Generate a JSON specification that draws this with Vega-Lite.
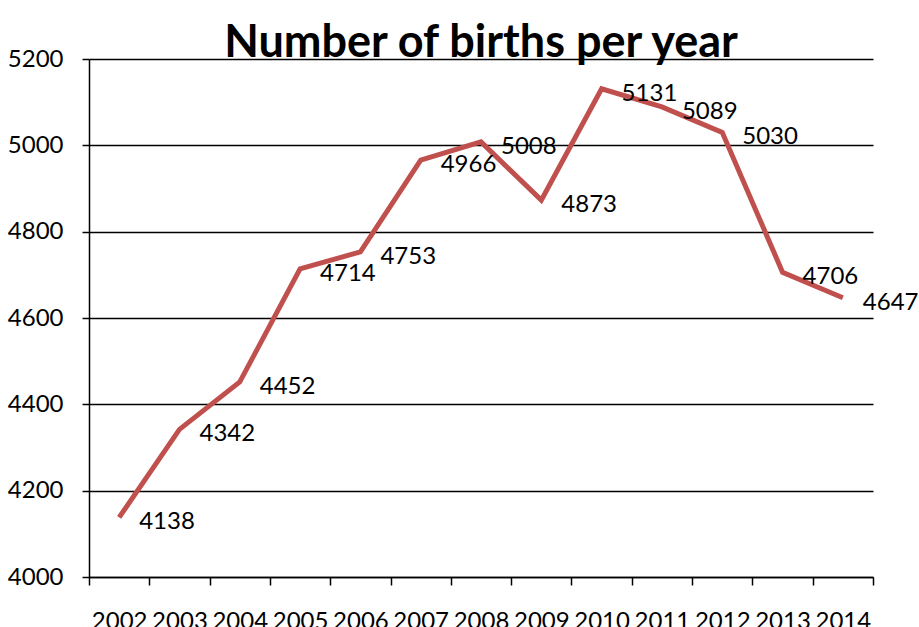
{
  "$schema": "https://vega.github.io/schema/vega-lite/v6.json",
  "width": 784,
  "height": 518,
  "autosize": "none",
  "padding": {"left": 89, "top": 59, "right": 46, "bottom": 50},
  "background": "white",
  "title": {
    "text": "Number of births per year",
    "anchor": "middle",
    "frame": "group",
    "font": "Lato",
    "fontSize": 45,
    "fontWeight": "bold",
    "color": "black",
    "baseline": "alphabetic",
    "offset": -55
  },
  "data": {
    "values": [
      {"year": "2002", "births": 4138},
      {"year": "2003", "births": 4342},
      {"year": "2004", "births": 4452},
      {"year": "2005", "births": 4714},
      {"year": "2006", "births": 4753},
      {"year": "2007", "births": 4966},
      {"year": "2008", "births": 5008},
      {"year": "2009", "births": 4873},
      {"year": "2010", "births": 5131},
      {"year": "2011", "births": 5089},
      {"year": "2012", "births": 5030},
      {"year": "2013", "births": 4706},
      {"year": "2014", "births": 4647}
    ]
  },
  "encoding": {
    "x": {
      "field": "year",
      "type": "ordinal",
      "scale": {"paddingInner": 0, "paddingOuter": 0},
      "axis": {
        "title": null,
        "labelAngle": 0,
        "labelFont": "Lato",
        "labelFontSize": 24,
        "labelColor": "black",
        "domainColor": "black",
        "domainWidth": 1.5,
        "tickColor": "black",
        "tickWidth": 1.5,
        "tickSize": 8,
        "tickBand": "extent",
        "labelPadding": 24,
        "grid": false
      }
    },
    "y": {
      "field": "births",
      "type": "quantitative",
      "scale": {"domain": [4000, 5200], "nice": false, "zero": false},
      "axis": {
        "title": null,
        "values": [4000, 4200, 4400, 4600, 4800, 5000, 5200],
        "format": "d",
        "labelFont": "Lato",
        "labelFontSize": 24,
        "labelColor": "black",
        "domainColor": "black",
        "domainWidth": 1.5,
        "tickColor": "black",
        "tickWidth": 1.5,
        "tickSize": 7,
        "labelPadding": 19,
        "grid": true,
        "gridColor": "black",
        "gridWidth": 1.5,
        "gridOpacity": 1
      }
    }
  },
  "layer": [
    {
      "mark": {"type": "line", "color": "#C0504D", "strokeWidth": 5, "strokeJoin": "miter", "strokeCap": "butt"}
    },
    {
      "mark": {"type": "text", "align": "left", "baseline": "middle", "dx": 20, "dy": 5, "font": "Lato", "fontSize": 24, "color": "black"},
      "encoding": {"text": {"field": "births", "type": "quantitative", "format": "d"}}
    }
  ],
  "config": {"view": {"stroke": null}}
}
